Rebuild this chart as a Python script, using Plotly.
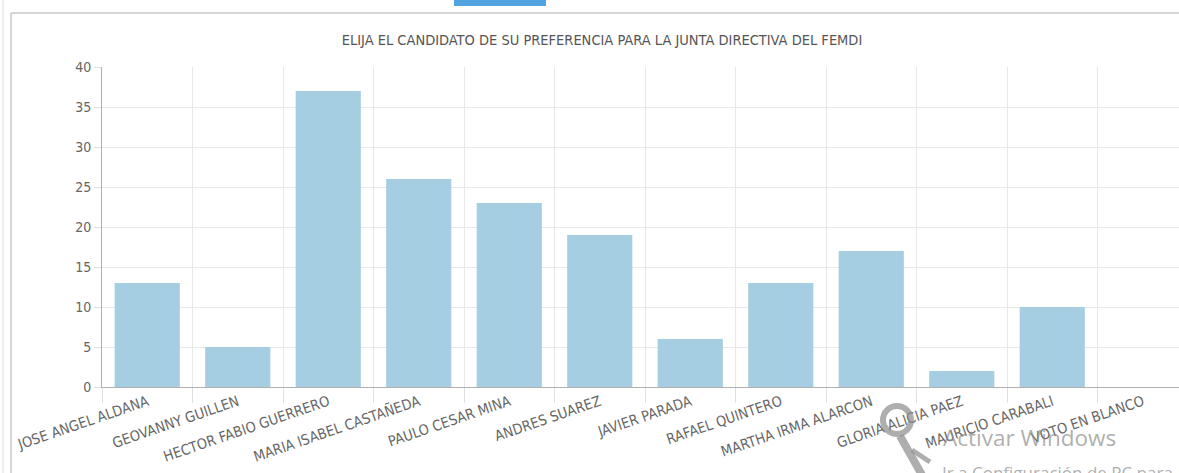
import plotly.graph_objects as go

categories = ["JOSE ANGEL ALDANA", "GEOVANNY GUILLEN", "HECTOR FABIO GUERRERO",
              "MARIA ISABEL CASTAÑEDA", "PAULO CESAR MINA", "ANDRES SUAREZ",
              "JAVIER PARADA", "RAFAEL QUINTERO", "MARTHA IRMA ALARCON",
              "GLORIA ALICIA PAEZ", "MAURICIO CARABALI", "VOTO EN BLANCO"]
votes = [13, 5, 37, 26, 23, 19, 6, 13, 17, 2, 10, 0]
y_ticks = [0, 5, 10, 15, 20, 25, 30, 35, 40]
title_text = "ELIJA EL CANDIDATO DE SU PREFERENCIA PARA LA JUNTA DIRECTIVA DEL FEMDI"

W, H = 1200, 473
ML, MR, MT, MB = 102, 12, 67, 86
PW = W - ML - MR
PH = H - MT - MB


def px(x):
    return (x - ML) / PW


def py(y):
    return (H - MB - y) / PH


FONT = "Liberation Sans Narrow, DejaVu Sans Condensed, Arial Narrow, sans-serif"
WM = "rgba(140,140,140,0.7)"

fig = go.Figure(go.Bar(
    x=categories, y=votes,
    marker=dict(color="#a6cee3", line=dict(width=0)),
    hoverinfo="x+y",
))

shapes = [
    # outer left line
    dict(type="line", xref="paper", yref="paper", x0=px(3), x1=px(3), y0=py(0), y1=py(H),
         line=dict(color="#dcdcdc", width=1)),
    # panel top border
    dict(type="line", xref="paper", yref="paper", x0=px(11), x1=px(W), y0=py(13), y1=py(13),
         line=dict(color="#d6d6d6", width=2)),
    # panel left border
    dict(type="line", xref="paper", yref="paper", x0=px(11), x1=px(11), y0=py(13), y1=py(H),
         line=dict(color="#d6d6d6", width=2)),
    # blue tab
    dict(type="rect", xref="paper", yref="paper", x0=px(454), x1=px(546), y0=py(6), y1=py(-5),
         fillcolor="#4fa3de", line=dict(width=0)),
    # watermark key icon
    dict(type="circle", xref="paper", yref="paper", x0=px(883), x1=px(911), y0=py(406), y1=py(434),
         line=dict(color=WM, width=6), layer="above"),
    dict(type="line", xref="paper", yref="paper", x0=px(900), x1=px(922), y0=py(436), y1=py(475),
         line=dict(color=WM, width=8), layer="above"),
    dict(type="line", xref="paper", yref="paper", x0=px(912), x1=px(930), y0=py(450), y1=py(462),
         line=dict(color=WM, width=5), layer="above"),
]

annotations = [
    dict(text="Activar Windows", xref="paper", yref="paper", x=px(941), y=py(437),
         xanchor="left", yanchor="middle", showarrow=False,
         font=dict(family="Open Sans, sans-serif", size=22.5, color=WM)),
    dict(text="Ir a Configuración de PC para activar Windows.", xref="paper", yref="paper",
         x=px(940), y=py(472), xanchor="left", yanchor="middle", showarrow=False,
         font=dict(family="Open Sans, sans-serif", size=17, color=WM)),
]

fig.update_layout(
    width=W, height=H,
    margin=dict(l=ML, r=MR, t=MT, b=MB, pad=0, autoexpand=False),
    paper_bgcolor="white", plot_bgcolor="white",
    bargap=0.28,
    showlegend=False,
    title=dict(text=title_text, xref="container", yref="container",
               x=602 / W, y=1 - 40 / H, xanchor="center", yanchor="middle",
               font=dict(family=FONT, size=14.5, color="#555555")),
    font=dict(family=FONT, color="#666666"),
    shapes=shapes,
    annotations=annotations,
    xaxis=dict(
        type="category", tickson="boundaries", showgrid=True, gridcolor="#e8e8e8",
        ticks="outside", ticklen=15, tickcolor="#e0e0e0", automargin=False,
        showline=True, linecolor="#b0b0b0", linewidth=1,
        tickangle=-19, tickfont=dict(family=FONT, size=14.5, color="#666666"),
        range=[-0.5, len(categories) - 0.5],
    ),
    yaxis=dict(
        range=[0, 40], tickvals=y_ticks, showgrid=True, gridcolor="#e8e8e8",
        ticks="outside", ticklen=7, tickcolor="#e0e0e0", automargin=False,
        showline=True, linecolor="#b0b0b0", linewidth=1,
        zeroline=False, tickfont=dict(family=FONT, size=14, color="#666666"),
    ),
)

fig.write_html("out.html", config={"displayModeBar": False},
               post_script="document.body.style.margin='0';document.body.style.overflow='hidden';")
